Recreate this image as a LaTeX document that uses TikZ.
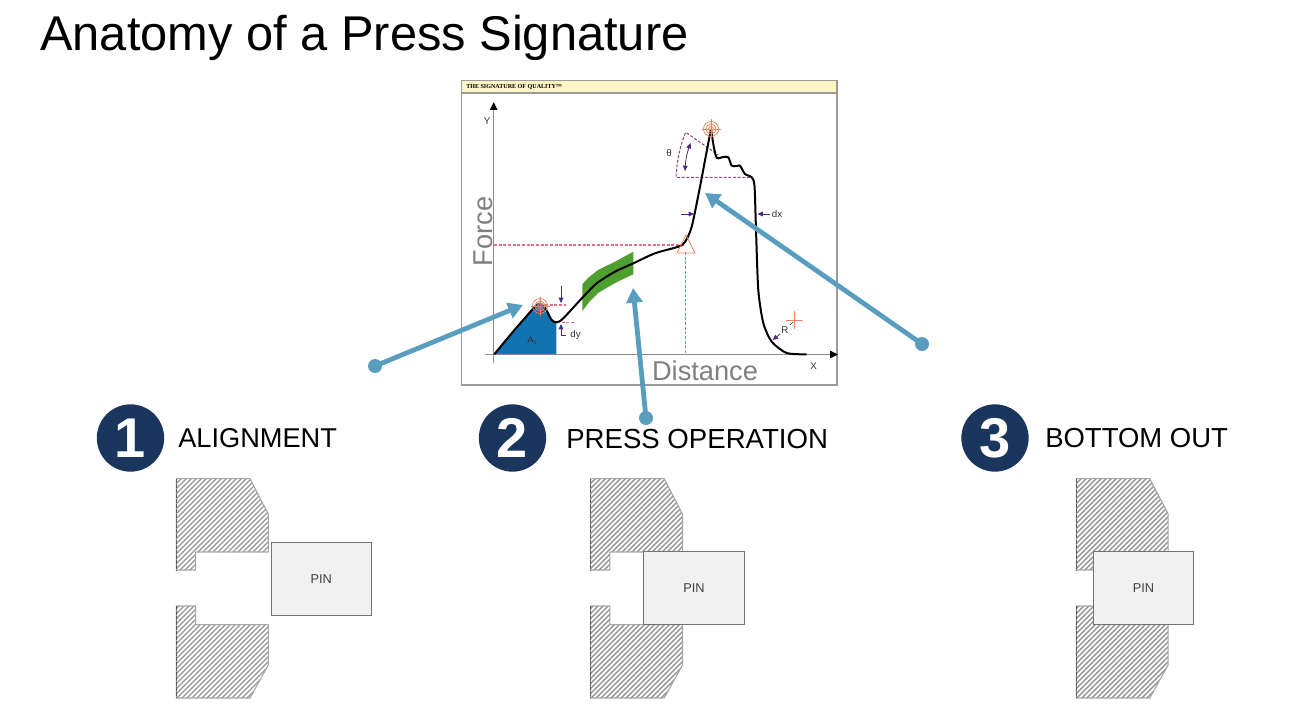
\documentclass[tikz,border=0pt]{standalone}
\usepackage{fontspec}
\setmainfont{Liberation Sans}
\newfontfamily\hdrfont{Liberation Serif}
\usetikzlibrary{arrows.meta,calc}
\definecolor{navy}{HTML}{1B365D}
\definecolor{callout}{HTML}{5A9EBF}
\definecolor{frameg}{HTML}{9A9A9A}
\definecolor{hdr}{HTML}{FBF6C4}
\definecolor{areablue}{HTML}{1273B2}
\definecolor{bandgreen}{HTML}{4F9E30}
\definecolor{target}{HTML}{E8855A}
\definecolor{pinkdash}{HTML}{E0708A}
\definecolor{dimpurple}{HTML}{4A2A7A}
\definecolor{hatchg}{HTML}{959595}
\definecolor{axisgrey}{HTML}{808080}
\definecolor{pinfill}{HTML}{F1F1F1}
\tikzset{
  x=0.75pt,y=-0.75pt,
  numdot/.style={circle,fill=navy,minimum size=50.5pt,inner sep=0pt,text=white,font=\fontsize{42}{42}\selectfont\bfseries},
  stagelabel/.style={anchor=west,inner sep=0pt,text=black},
  axislabel/.style={inner sep=0pt,font=\fontsize{20.4}{22}\selectfont,text=axisgrey},
  smalllabel/.style={inner sep=0pt,font=\fontsize{7.3}{8}\selectfont,text=black!80},
  pinbox/.style={draw=black!55,line width=.8pt,fill=pinfill,minimum width=75.4pt,minimum height=54.8pt,inner sep=0pt,font=\fontsize{9.6}{11}\selectfont,text=black!75},
  calloutline/.style={draw=callout,line width=3.6pt,-{Triangle[length=11pt,width=12pt]}},
  calloutdot/.style={circle,fill=callout,minimum size=10.5pt,inner sep=0pt},
  axisline/.style={draw=black!45,line width=1pt},
  axistip/.style={-{Triangle[length=6pt,width=5.5pt,color=black]}},
  curve/.style={draw=black,line width=1.5pt,line join=round},
  pinkline/.style={draw=pinkdash,line width=.8pt,dash pattern=on 2.2pt off 1.3pt},
  wedge/.style={draw=dimpurple!55!pinkdash,line width=.8pt,dash pattern=on 2.2pt off 1.3pt},
  dimarrow/.style={draw=dimpurple,line width=.6pt,-{Triangle[length=4pt,width=3.5pt]}},
  targetring/.style={draw=target,line width=.6pt},
  hatchedge/.style={draw=black!35,line width=.8pt,line join=round},
  darkedge/.style={draw=black!65,line width=1.1pt,dash pattern=on 3pt off .8pt},
}
\newcommand{\upperblock}{(176.5,478.7) -- (250,478.7) -- (268.3,514) -- (268.3,552) -- (195.7,552) -- (195.7,570) -- (176.5,570) -- cycle}
\newcommand{\lowerblock}{(176.5,606) -- (195.7,606) -- (195.7,624.7) -- (268.3,624.7) -- (268.3,665) -- (250,698) -- (176.5,698) -- cycle}
\newcommand{\hatchlines}{%
  \foreach \k in {650,655,...,970}{\draw[draw=hatchg,line width=1.05pt] (\k-700,700) -- (\k-470,470);}}
\newcommand{\dieblock}[1]{%
  \begin{scope}[shift={(#1,0)}]
    \begin{scope}\clip \upperblock; \hatchlines \end{scope}
    \begin{scope}\clip \lowerblock; \hatchlines \end{scope}
    \draw[hatchedge] \upperblock;
    \draw[hatchedge] \lowerblock;
    \draw[darkedge] (176.5,478.7) -- (176.5,570);
    \draw[darkedge] (176.5,606) -- (176.5,698);
  \end{scope}}
\newcommand{\bullseye}[1]{%
  \foreach \r in {2.5,5,7.5}{\draw[targetring] (#1) circle[radius=\r];}
  \draw[targetring] ($(#1)+(-9.5,0)$) -- ($(#1)+(9.5,0)$);
  \draw[targetring] ($(#1)+(0,-9.5)$) -- ($(#1)+(0,9.5)$);}
\begin{document}
\begin{tikzpicture}
\useasboundingbox[fill=white] (0,0) rectangle (1295,709);

\node[anchor=base west,inner sep=0pt,font=\fontsize{36.6}{40}\selectfont] (title) at (40,51) {Anatomy of a Press Signature};

% chart frame
\draw[draw=frameg,line width=1pt,fill=white] (461.5,80.5) rectangle (837,385);
\draw[draw=frameg,line width=1pt,fill=hdr] (461.5,80.5) rectangle (837,93);
\node[anchor=west,inner sep=0pt,font=\hdrfont\fontsize{4.55}{5}\selectfont\bfseries] (hdrtext) at (466,87) {THE SIGNATURE OF QUALITY™};

% fills
\fill[areablue] plot[smooth,tension=.4] coordinates {(494.3,354.3) (513,331.7) (535,306.7) (540,304.3) (545,307.7) (551.7,319) (556.3,322.3)} -- (556.3,354.5) -- cycle;
\fill[bandgreen] (582.3,284.3) -- (588,278) -- (598,270) -- (615,261.7) -- (633.3,251.7) -- (633.3,274.3) -- (615,283) -- (598,293) -- (590,301) -- (582.3,311) -- cycle;

% axes
\coordinate (ytop) at (493.7,102);
\coordinate (ybot) at (493.7,363);
\coordinate (xleft) at (485,354.5);
\coordinate (xright) at (838,354.5);
\draw[axisline,axistip] (ybot) -- (ytop);
\draw[axisline,axistip] (xleft) -- (xright);
\node[smalllabel] (ylab) at (487,121) {Y};
\node[smalllabel] (xlab) at (813.5,366) {X};

% dashed guides
\draw[pinkline] (494,245) -- (685,245);
\draw[pinkline] (685.5,252) -- (685.5,354);
\draw[pinkline] (545,305) -- (566,305);
\draw[pinkline] (557,322.5) -- (574,322.5);
\draw[wedge] (750,177.3) -- (676,177.3) .. controls (677,160) and (680,146) .. (685.7,132.3) -- (718.3,155);

% signature curve
\draw[curve] plot[smooth,tension=.45] coordinates {(494.3,354.3) (513,331.7) (535,306.7) (540,304.3) (545,307.7) (551.7,320) (556.7,322.3) (563.3,318.3) (583.3,296.7) (596.7,283.3) (615,271.7) (633.3,263.3) (655,253.3) (678.3,246.7) (685,242) (691.7,226.7) (700,186.7) (706,155) (711,129)};
\draw[curve] plot[smooth,tension=.45] coordinates {(711,129) (714,148) (717,158) (723,157) (728.3,157.3) (731.7,165.7) (737,166) (740,165.7) (745,174) (751.7,177.3) (754.5,186) (756,230) (758.3,290) (763.3,323) (771.7,341.7) (786.7,353) (806.7,354.3)};

% targets and markers
\bullseye{540,306}
\bullseye{711,129}
\fill[black!45,opacity=.6] (540,306) circle[radius=4];
\draw[targetring] (686,235) -- (677,253) -- (695,253) -- cycle;

% dimension marks
\draw[dimarrow] (561,286) -- (561,303);
\draw[dimarrow] (566,335) -- (561,335) -- (561,324);
\draw[dimarrow] (681,214) -- (694,214);
\draw[dimarrow] (770,214) -- (757.5,214);
\draw[dimarrow,{Triangle[length=4pt,width=3.5pt]}-{Triangle[length=4pt,width=3.5pt]}] (690.5,143) to[bend right=8] (685,171);
\draw[dimarrow] (780,334) -- (772.7,340);
\draw[draw=target,line width=.6pt] (786,320.7) -- (803,320.7);
\draw[draw=target,line width=.6pt] (794.4,311) -- (794.4,329);
\draw[draw=dimpurple,line width=.5pt,densely dashed] (790,325) -- (794,321);

\node[smalllabel] (alab) at (532,340.5) {A\raisebox{-1pt}{\fontsize{4}{4}\selectfont 1}};
\node[smalllabel] (dylab) at (575.5,335) {dy};
\node[smalllabel] (dxlab) at (777,214) {dx};
\node[smalllabel] (thlab) at (669,153) {θ};
\node[smalllabel] (rlab) at (785,330) {R};

% overlaid axis titles
\node[axislabel,rotate=90] (force) at (483,231.5) {Force};
\node[axislabel] (distance) at (705,370.5) {Distance};

% callouts
\node[calloutdot] (dotone) at (375,366) {};
\node[calloutdot] (dottwo) at (646,418) {};
\node[calloutdot] (dotthree) at (922,344) {};
\coordinate (tipone) at (523,305);
\coordinate (tiptwo) at (633,288);
\coordinate (tipthree) at (705,193);
\draw[calloutline] (dotone.center) -- (tipone);
\draw[calloutline] (dottwo.center) -- (tiptwo);
\draw[calloutline] (dotthree.center) -- (tipthree);

% stage headings
\node[numdot] (numone) at (130.5,438) {1};
\node[numdot] (numtwo) at (512.5,438) {2};
\node[numdot] (numthree) at (995,438) {3};
\node[stagelabel,font=\fontsize{20.4}{22}\selectfont] (stageone) at (178,438.5) {ALIGNMENT};
\node[stagelabel,font=\fontsize{20.7}{22}\selectfont] (stagetwo) at (566,438.5) {PRESS OPERATION};
\node[stagelabel,font=\fontsize{20.6}{22}\selectfont] (stagethree) at (1045,438.5) {BOTTOM OUT};

% dies and pins
\dieblock{0}
\dieblock{414.2}
\dieblock{899.8}
\node[pinbox] (pinone) at (321.3,579) {PIN};
\node[pinbox] (pintwo) at (694,588.3) {PIN};
\node[pinbox] (pinthree) at (1143.5,588.3) {PIN};
\end{tikzpicture}
\end{document}
